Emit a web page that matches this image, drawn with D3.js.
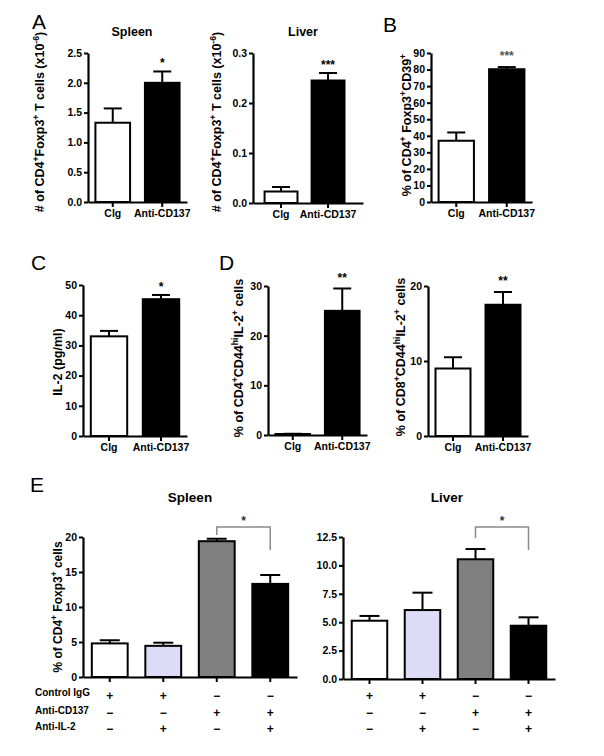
<!DOCTYPE html>
<html><head><meta charset="utf-8">
<script src="https://cdn.jsdelivr.net/npm/d3@7"></script>
<style>
body{margin:0;background:#fff}
svg{display:block}
text{font-family:"Liberation Sans",Arial,Helvetica,sans-serif}
</style>
</head><body>
<svg id="chart" width="604" height="756"></svg>
<script>
// ---------- data ----------
const twoGroups = ["Clg", "Anti-CD137"];
const fourGroups = ["g1", "g2", "g3", "g4"];

const spleenCountMean = [1.33, 2.0];
const spleenCountErr  = [0.24, 0.19];
const liverCountMean  = [0.023, 0.245];
const liverCountErr   = [0.009, 0.015];
const cd39Mean = [37, 80.2];
const cd39Err  = [5, 1.3];
const il2Mean = [33, 45.3];
const il2Err  = [1.8, 1.4];
const cd4Il2Mean = [0.2, 25];
const cd4Il2Err  = [0.05, 4.5];
const cd8Il2Mean = [9, 17.5];
const cd8Il2Err  = [1.5, 1.7];
const eSpleenMean = [4.8, 4.45, 19.4, 13.3];
const eSpleenErr  = [0.45, 0.45, 0.35, 1.27];
const eLiverMean  = [5.13, 6.07, 10.54, 4.69];
const eLiverErr   = [0.42, 1.53, 0.9, 0.74];

const tickA1 = [0, 0.5, 1.0, 1.5, 2.0, 2.5];
const tickA2 = [0, 0.1, 0.2, 0.3];
const tickB  = [0, 10, 20, 30, 40, 50, 60, 70, 80, 90];
const tickC  = [0, 10, 20, 30, 40, 50];
const tickD1 = [0, 10, 20, 30];
const tickD2 = [0, 10, 20];
const tickE1 = [0, 5, 10, 15, 20];
const tickE2 = [0, 2.5, 5.0, 7.5, 10.0, 12.5];

const rowLabels = ["Control IgG", "Anti-CD137", "Anti-IL-2"];
const controlIgG = ["+", "+", "\u2212", "\u2212"];
const antiCD137  = ["\u2212", "\u2212", "+", "+"];
const antiIL2    = ["\u2212", "+", "\u2212", "+"];

const twoFills  = ["#ffffff", "#000000"];
const fourFills = ["#ffffff", "#dcdcf6", "#808080", "#000000"];

// ---------- drawing ----------
const svg = d3.select("#chart");
const FONT = '"Liberation Sans",Arial,Helvetica,sans-serif';

function rich(g, parts, size) {
  const t = g.append("text").attr("font-size", size).attr("font-weight", "bold")
    .attr("text-anchor", "middle").attr("fill", "#000");
  const shift = size * 0.42;
  let raised = false;
  parts.forEach(p => {
    const sup = p[1] === "s";
    const ts = t.append("tspan").text(p[0]);
    if (sup) { ts.attr("font-size", size * 0.7); if (!raised) { ts.attr("dy", -shift); raised = true; } }
    else { if (raised) { ts.attr("dy", shift); raised = false; } }
  });
  return t;
}

function panel(c) {
  const g = svg.append("g");
  const y = d3.scaleLinear().domain([0, c.max]).range([c.yBot, c.yTop]);
  const pi = c.pi ?? 0.3;
  const x = d3.scaleBand().domain(c.cats).range([c.x0, c.x1])
    .paddingInner(pi).paddingOuter(c.po ?? pi / 2).align(c.align ?? 0.5);
  const bw = x.bandwidth();
  const capW = c.capW ?? 18;

  // error bars (upper only)
  c.cats.forEach((k, i) => {
    const cx = x(k) + bw / 2;
    g.append("line").attr("x1", cx).attr("x2", cx)
      .attr("y1", y(c.mean[i])).attr("y2", y(c.mean[i] + c.err[i]))
      .attr("stroke", "#000").attr("stroke-width", 2);
    g.append("line").attr("x1", cx - capW / 2).attr("x2", cx + capW / 2)
      .attr("y1", y(c.mean[i] + c.err[i])).attr("y2", y(c.mean[i] + c.err[i]))
      .attr("stroke", "#000").attr("stroke-width", 2);
  });
  // bars
  g.selectAll("rect.bar").data(c.cats).join("rect").attr("class", "bar")
    .attr("x", k => x(k)).attr("width", bw)
    .attr("y", (k, i) => y(c.mean[i]) )
    .attr("height", (k, i) => c.yBot - y(c.mean[i]))
    .attr("fill", (k, i) => c.fills[i]).attr("stroke", "#000").attr("stroke-width", 2);

  // y axis
  const ya = g.append("g").attr("transform", `translate(${c.x0},0)`)
    .call(d3.axisLeft(y).tickValues(c.ticks).tickFormat(d3.format(c.fmt)).tickSize(4).tickSizeOuter(0).tickPadding(2));
  ya.select(".domain").attr("stroke-width", 2.2);
  ya.selectAll(".tick line").attr("stroke-width", 2);
  ya.selectAll(".tick text").attr("font-size", 10.5).attr("font-weight", "bold").attr("font-family", FONT).attr("fill", "#000");

  // x axis
  const xa = g.append("g").attr("transform", `translate(0,${c.yBot})`)
    .call(d3.axisBottom(x).tickSize(5).tickSizeOuter(0).tickFormat(c.xLabels ? (d => d) : () => ""));
  xa.select(".domain").attr("stroke-width", 2.2);
  xa.selectAll(".tick line").attr("stroke-width", 2);
  xa.selectAll(".tick text").attr("font-size", 10.5).attr("font-weight", "bold").attr("font-family", FONT)
    .attr("fill", "#000").attr("y", 8);

  // significance
  if (c.sig) {
    c.sig.forEach((s, i) => {
      if (!s) return;
      g.append("text").attr("x", x(c.cats[i]) + bw / 2)
        .attr("y", y(c.mean[i] + c.err[i]) - (c.sigOff ?? 3))
        .attr("text-anchor", "middle").attr("font-size", 12).attr("font-weight", "bold")
        .attr("fill", c.sigColor ?? "#000").text(s);
    });
  }
  // y label
  if (c.label) {
    const t = rich(g, c.label, c.labelSize ?? 12.5);
    t.attr("transform", `translate(${c.labelX},${c.labelY}) rotate(-90)`);
  }
  if (c.title) {
    g.append("text").attr("x", c.titleX).attr("y", c.titleY).attr("text-anchor", "middle")
      .attr("font-size", c.titleSize ?? 12.5).attr("font-weight", "bold").text(c.title);
  }
  return { x, y, bw, g };
}

function letter(t, xx, yy) {
  svg.append("text").attr("x", xx).attr("y", yy).attr("font-size", 21).text(t);
}

// Panel A
panel({ cats: twoGroups, xLabels: true, mean: spleenCountMean, err: spleenCountErr, fills: twoFills,
  x0: 88, x1: 187, yTop: 53, yBot: 202, max: 2.5, ticks: tickA1, fmt: ".1f", sig: ["", "*"], sigOff: 4,
  label: [["# of CD4"], ["+", "s"], ["Foxp3"], ["+", "s"], [" T cells (x10"], ["-6", "s"], [")"]],
  labelX: 44, labelY: 122, title: "Spleen", titleX: 132, titleY: 36 });
panel({ cats: twoGroups, xLabels: true, mean: liverCountMean, err: liverCountErr, fills: twoFills,
  x0: 253, x1: 363, po: 0.32, align: 0.385, yTop: 53, yBot: 203, max: 0.3, ticks: tickA2, fmt: ".1f",
  sig: ["", "***"], sigOff: 4,
  label: [["# of CD4"], ["+", "s"], ["Foxp3"], ["+", "s"], [" T cells (x10"], ["-6", "s"], [")"]],
  labelX: 221, labelY: 122, title: "Liver", titleX: 303, titleY: 36 });
// Panel B
panel({ cats: twoGroups, xLabels: true, mean: cd39Mean, err: cd39Err, fills: twoFills,
  x0: 431, x1: 532, yTop: 53, yBot: 202, max: 90, ticks: tickB, fmt: "d", sig: ["", "***"], sigOff: 7, sigColor: "#555",
  label: [["% of CD4"], ["+", "s"], [" Foxp3"], ["+", "s"], ["CD39"], ["+", "s"]],
  labelX: 411, labelY: 125 });
// Panel C
panel({ cats: twoGroups, xLabels: true, mean: il2Mean, err: il2Err, fills: twoFills,
  x0: 83, x1: 187, yTop: 285, yBot: 436, max: 50, ticks: tickC, fmt: "d", sig: ["", "*"], sigOff: 4,
  label: [["IL-2 (pg/ml)"]], labelX: 62, labelY: 362 });
// Panel D
panel({ cats: twoGroups, xLabels: true, mean: cd4Il2Mean, err: cd4Il2Err, fills: twoFills,
  x0: 268, x1: 367, yTop: 286, yBot: 435, max: 30, ticks: tickD1, fmt: "d", sig: ["", "**"], sigOff: 6,
  label: [["% of CD4"], ["+", "s"], ["CD44"], ["hi", "s"], ["IL-2"], ["+", "s"], [" cells"]],
  labelX: 243, labelY: 358 });
panel({ cats: twoGroups, xLabels: true, mean: cd8Il2Mean, err: cd8Il2Err, fills: twoFills,
  x0: 428, x1: 528, yTop: 286, yBot: 436, max: 20, ticks: tickD2, fmt: "d", sig: ["", "**"], sigOff: 7,
  label: [["% of CD8"], ["+", "s"], ["CD44"], ["hi", "s"], ["IL-2"], ["+", "s"], [" cells"]],
  labelX: 405, labelY: 357 });

// Panel E
const eS = panel({ cats: fourGroups, xLabels: false, mean: eSpleenMean, err: eSpleenErr, fills: fourFills,
  x0: 83, x1: 297, pi: 0.33, yTop: 537, yBot: 677, max: 20, ticks: tickE1, fmt: "d", capW: 20,
  label: [["% of CD4"], ["+", "s"], [" Foxp3"], ["+", "s"], [" cells"]], labelSize: 12,
  labelX: 62, labelY: 607, title: "Spleen", titleX: 190, titleY: 502, titleSize: 13.5 });
const eL = panel({ cats: fourGroups, xLabels: false, mean: eLiverMean, err: eLiverErr, fills: fourFills,
  x0: 343, x1: 555, pi: 0.33, yTop: 537, yBot: 679, max: 12.5, ticks: tickE2, fmt: ".1f", capW: 20,
  title: "Liver", titleX: 447, titleY: 502, titleSize: 13.5 });

function bracket(p, top, leftBottom, rightBottom, starY) {
  const a = p.x(fourGroups[2]) + p.bw / 2, b = p.x(fourGroups[3]) + p.bw / 2;
  p.g.append("path").attr("d", `M${a},${leftBottom}V${top}H${b}V${rightBottom}`)
    .attr("fill", "none").attr("stroke", "#8a8a8a").attr("stroke-width", 1.5);
  p.g.append("text").attr("x", (a + b) / 2).attr("y", starY).attr("text-anchor", "middle")
    .attr("font-size", 12).attr("font-weight", "bold").attr("fill", "#333").text("*");
}
bracket(eS, 527, 535, 550, 525);
bracket(eL, 527, 538, 550, 525);

// condition table
const rowY = [697, 714, 730];
rowLabels.forEach((r, i) => {
  svg.append("text").attr("x", 35).attr("y", rowY[i] - (i === 0 ? 1 : 0)).attr("font-size", 10)
    .attr("font-weight", "bold").text(r);
});
[controlIgG, antiCD137, antiIL2].forEach((row, i) => {
  [eS, eL].forEach(p => {
    row.forEach((s, j) => {
      p.g.append("text").attr("x", p.x(fourGroups[j]) + p.bw / 2).attr("y", rowY[i] + 3)
        .attr("text-anchor", "middle").attr("font-size", 12).attr("font-weight", "bold").text(s);
    });
  });
});

// panel letters
letter("A", 32, 29);
letter("B", 383, 32);
letter("C", 31, 270);
letter("D", 219, 270);
letter("E", 30, 492);
</script>
</body></html>
